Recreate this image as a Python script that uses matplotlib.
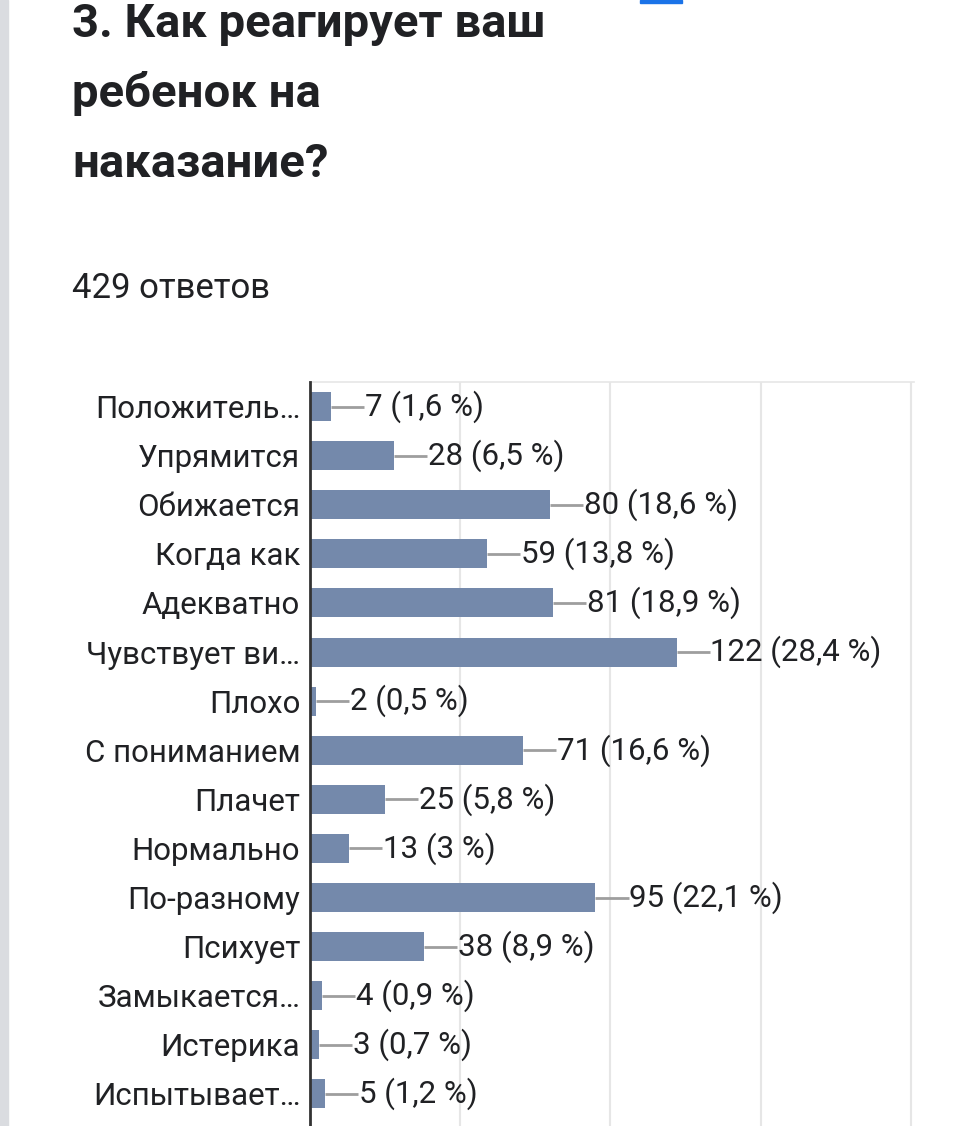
import matplotlib.pyplot as plt
from matplotlib.patches import Rectangle

plt.rcParams['font.family'] = ['Roboto', 'DejaVu Sans']

title_lines = ["3. Как реагирует ваш", "ребенок на", "наказание?"]
subtitle = "429 ответов"
categories = ["Положитель…", "Упрямится", "Обижается", "Когда как", "Адекватно",
              "Чувствует ви…", "Плохо", "С пониманием", "Плачет", "Нормально",
              "По-разному", "Психует", "Замыкается…", "Истерика", "Испытывает…"]
counts = [7, 28, 80, 59, 81, 122, 2, 71, 25, 13, 95, 38, 4, 3, 5]
percents = ["1,6", "6,5", "18,6", "13,8", "18,9", "28,4", "0,5", "16,6", "5,8", "3",
            "22,1", "8,9", "0,9", "0,7", "1,2"]
grid_ticks = [50, 100, 150, 200]

W, H = 967, 1126
fig = plt.figure(figsize=(W / 100, H / 100), dpi=100)

# light strip on the left and blue mark at top
fig.patches.append(Rectangle((0, 0), 8 / W, 1, transform=fig.transFigure,
                             color='#dadce0', zorder=0))
fig.patches.append(Rectangle((640 / W, 1 - 3 / H), 42 / W, 3 / H,
                             transform=fig.transFigure, color='#1a73e8', zorder=0))

for i, line in enumerate(title_lines):
    fig.text(72 / W, 1 - (37 + 70 * i) / H, line, fontsize=34, fontweight='bold',
             color='#202124', va='baseline', ha='left')
fig.text(72 / W, 1 - 298 / H, subtitle, fontsize=25, color='#202124',
         va='baseline', ha='left')

left, right, top = 310, 914, 382
ax = fig.add_axes([left / W, 0, (right - left) / W, (H - top) / H])

ypos = list(range(len(categories)))
ax.barh(ypos, counts, height=0.59, color='#7489ab', zorder=3)
ax.set_xlim(0, 201)
spacing = 49.1
ax.set_ylim(-0.5 + (H - top) / spacing, -0.5)

for y, c, p in zip(ypos, counts, percents):
    ax.plot([c, c + 11], [y, y], color='#9e9e9e', lw=2, zorder=2,
            solid_capstyle='butt')
    ax.text(c + 11.2, y, f"{c} ({p} %)", fontsize=22.5, color='#202124',
            va='center', ha='left')

ax.set_yticks(ypos)
ax.set_yticklabels(categories, fontsize=22.5, color='#202124')
ax.tick_params(axis='y', length=0, pad=7)
ax.set_xticks(grid_ticks)
ax.tick_params(axis='x', length=0, labelbottom=False)
ax.grid(axis='x', color='#e6e6e6', lw=1.5, zorder=0)

for s in ['right', 'bottom']:
    ax.spines[s].set_visible(False)
ax.spines['top'].set_color('#e6e6e6')
ax.spines['top'].set_linewidth(1.2)
ax.spines['left'].set_color('#333333')
ax.spines['left'].set_linewidth(2)
ax.spines['left'].set_zorder(5)

fig.savefig("out.png", dpi=100)
